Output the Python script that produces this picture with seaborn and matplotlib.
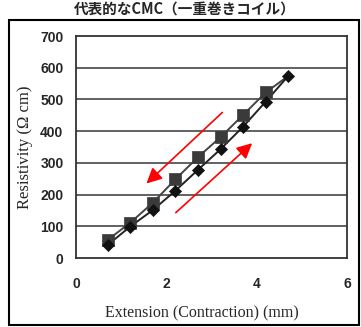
import matplotlib
matplotlib.use("Agg")
import matplotlib.pyplot as plt
import seaborn as sns
import pandas as pd
from matplotlib.patches import Rectangle

# ---- data ----
ext_x = [0.7, 1.2, 1.7, 2.2, 2.7, 3.2, 3.7, 4.2, 4.7]
ext_y = [41, 99, 151, 212, 278, 343, 414, 493, 574]
con_x = [4.7, 4.2, 3.7, 3.2, 2.7, 2.2, 1.7, 1.2, 0.7]
con_y = [574, 522, 451, 381, 318, 248, 174, 111, 57]
x_ticks = [0, 2, 4, 6]
y_ticks = [0, 100, 200, 300, 400, 500, 600, 700]
title = "代表的なCMC（一重巻きコイル）"
xlabel = "Extension (Contraction) (mm)"
ylabel = "Resistivity (Ω cm)"

sns.set_style("white")
plt.rcParams['font.family'] = ['Liberation Sans', 'DejaVu Sans']

fig = plt.figure(figsize=(3.61, 3.27), dpi=100)
ax = fig.add_axes([76/361, 1-258/327, (347-76)/361, (258-36)/327])

ext_df = pd.DataFrame({"x": ext_x, "y": ext_y})
con_df = pd.DataFrame({"x": con_x, "y": con_y})

for yv in y_ticks[1:-1]:
    ax.axhline(yv, color="#555555", lw=1.3, zorder=0)

sns.lineplot(data=con_df, x="x", y="y", ax=ax, color="#444444", lw=1.4,
             sort=False, zorder=2)
sns.lineplot(data=ext_df, x="x", y="y", ax=ax, color="#222222", lw=1.4,
             sort=False, zorder=2)
sns.scatterplot(data=con_df.iloc[1:], x="x", y="y", ax=ax, marker="s", s=70,
                color="#3a3a3a", edgecolor="#3a3a3a", linewidth=0.5, zorder=3)
sns.scatterplot(data=ext_df, x="x", y="y", ax=ax, marker="D", s=38,
                color="#111111", edgecolor="#111111", linewidth=0.5, zorder=4)

# red arrows
ax.annotate("", xy=(1.56, 235), xytext=(3.24, 459),
            arrowprops=dict(arrowstyle="-|>", color="red", lw=1.2,
                            mutation_scale=23, shrinkA=0, shrinkB=0))
ax.annotate("", xy=(3.90, 362), xytext=(2.21, 143),
            arrowprops=dict(arrowstyle="-|>", color="red", lw=1.2,
                            mutation_scale=23, shrinkA=0, shrinkB=0))

ax.set_xlim(0, 6)
ax.set_ylim(0, 700)
ax.set_xticks(x_ticks)
ax.set_yticks(y_ticks)
ax.set_xticklabels([str(v) for v in x_ticks], fontsize=10, fontweight="bold")
ax.set_yticklabels([str(v) for v in y_ticks], fontsize=10, fontweight="bold")
ax.tick_params(axis="x", direction="in", length=4, width=1, pad=14, color="#555555")
ax.tick_params(axis="y", length=0, pad=9)
for sp in ax.spines.values():
    sp.set_visible(True)
    sp.set_color("#333333")
    sp.set_linewidth(1.3)

ax.set_xlabel(xlabel, family=["Liberation Serif"], fontsize=11.5, labelpad=5)
ax.xaxis.set_label_coords(0.466, -0.215)
ax.set_ylabel(ylabel, family=["Liberation Serif", "DejaVu Serif"], fontsize=12, labelpad=5)

fig.text(0.512, 0.972, title, ha="center", va="center", fontsize=10.5,
         fontweight="bold", family=["Noto Sans CJK JP", "DejaVu Sans"])

fig.patches.append(Rectangle((9/361, 2/327), 350/361, 305/327, transform=fig.transFigure,
                             fill=False, edgecolor="black", lw=1.5))

fig.savefig("out.png", dpi=100)
